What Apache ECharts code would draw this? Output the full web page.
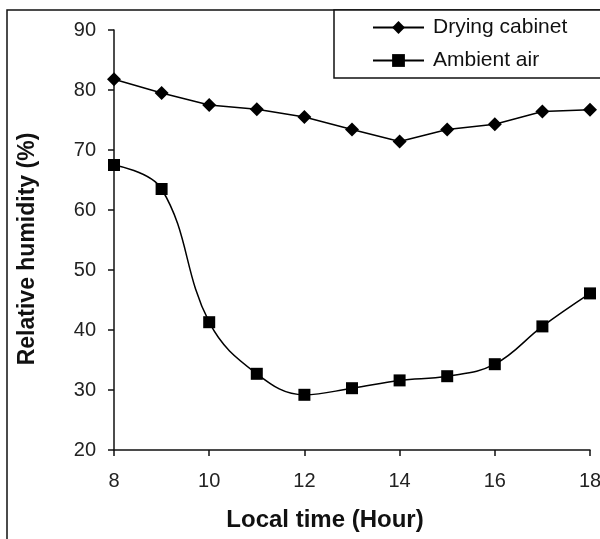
<!DOCTYPE html>
<html><head><meta charset="utf-8">
<script src="https://cdn.jsdelivr.net/npm/echarts@6/dist/echarts.min.js"></script>
<style>html,body{margin:0;padding:0;background:#fff}#c{width:600px;height:539px}</style>
</head><body><div id="c"></div>
<script>
var hours = [8, 9, 10, 11, 12, 13, 14, 15, 16, 17, 18];
var dryingCabinet = [81.8, 79.5, 77.5, 76.8, 75.5, 73.4, 71.4, 73.4, 74.3, 76.4, 76.7];
var ambientAir = [67.5, 63.5, 41.3, 32.7, 29.2, 30.3, 31.6, 32.3, 34.3, 40.6, 46.1];
var seriesNames = ['Drying cabinet', 'Ambient air'];
var xTitle = 'Local time (Hour)';
var yTitle = 'Relative humidity (%)';

function pairs(v){ return hours.map(function(h,i){ return [h, v[i]]; }); }
var font = 'Liberation Sans, Arial, sans-serif';
var chart = echarts.init(document.getElementById('c'));
chart.setOption({
  animation: false,
  backgroundColor: '#fff',
  grid: {left: 114, right: 10, top: 30, bottom: 89, outerBoundsMode: 'none', containLabel: false},
  graphic: [
    {type: 'rect', shape: {x: 7, y: 10, width: 700, height: 700}, style: {fill: 'none', stroke: '#111', lineWidth: 1.5}, z: 0},
    {type: 'rect', shape: {x: 334, y: 10, width: 400, height: 68}, style: {fill: '#fff', stroke: '#111', lineWidth: 1.5}, z: 5},
    {type: 'text', x: 325, y: 520, style: {text: xTitle, fontFamily: font, fontSize: 24, fontWeight: 'bold', fill: '#111', align: 'center', verticalAlign: 'middle'}, z: 10},
    {type: 'text', x: 28, y: 249, rotation: Math.PI / 2, style: {text: yTitle, fontFamily: font, fontSize: 23, fontWeight: 'bold', fill: '#111', align: 'center', verticalAlign: 'middle'}, z: 10}
  ],
  legend: {
    orient: 'vertical', left: 372, top: 17, itemGap: 12,
    itemWidth: 51, itemHeight: 16, z: 10, padding: 0,
    textStyle: {fontFamily: font, fontSize: 21, color: '#111', padding: [0, 0, 0, 4]},
    data: seriesNames
  },
  xAxis: {
    type: 'value', min: 8, max: 18, interval: 2,
    axisLine: {lineStyle: {color: '#111', width: 1.5}},
    axisTick: {inside: false, length: 6, lineStyle: {color: '#111', width: 1.5}},
    axisLabel: {fontFamily: font, fontSize: 20, color: '#222', margin: 21},
    splitLine: {show: false}
  },
  yAxis: {
    type: 'value', min: 20, max: 90, interval: 10,
    axisLine: {show: true, lineStyle: {color: '#111', width: 1.5}},
    axisTick: {show: true, inside: false, length: 6, lineStyle: {color: '#111', width: 1.5}},
    axisLabel: {fontFamily: font, fontSize: 20, color: '#222', margin: 18},
    splitLine: {show: false}
  },
  series: [
    {name: seriesNames[0], type: 'line', data: pairs(dryingCabinet), symbol: 'diamond', symbolSize: 14,
     itemStyle: {color: '#000'}, lineStyle: {color: '#000', width: 1.5}, z: 3},
    {name: seriesNames[1], type: 'line', data: pairs(ambientAir), symbol: 'rect', symbolSize: 12, smooth: 0.4,
     itemStyle: {color: '#000'}, lineStyle: {color: '#000', width: 1.5}, z: 3}
  ]
});
</script></body></html>
